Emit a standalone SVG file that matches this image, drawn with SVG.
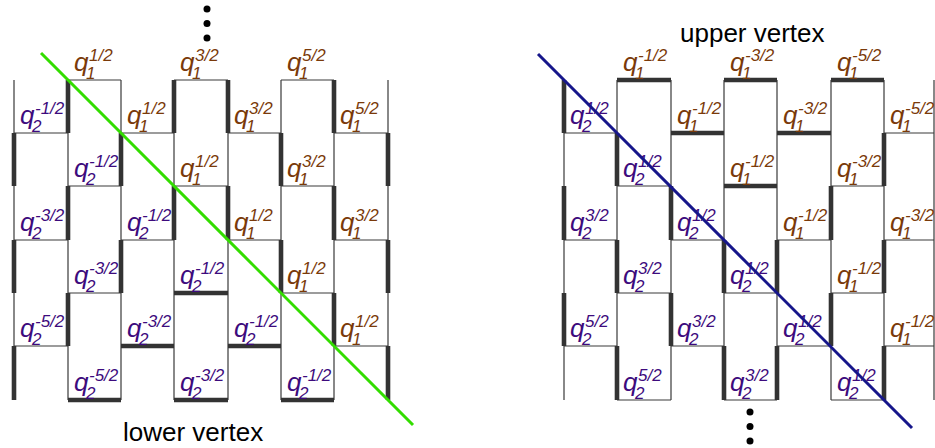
<svg xmlns="http://www.w3.org/2000/svg" width="935" height="448" viewBox="0 0 935 448">
  <style>
    .thin { fill: none; stroke: #3a3a3a; stroke-width: 1.2; }
    .thick { fill: none; stroke: #333; stroke-width: 4.6; stroke-linecap: butt; }
    .lbl { font-family: "Liberation Sans", Arial, sans-serif; font-style: italic; font-size: 26px; }
    .s { font-size: 17px; }
    .q1 { fill: #7a3a0a; }
    .q2 { fill: #3d0b7d; }
    .title { font-family: "Liberation Sans", Arial, sans-serif; font-size: 26px; fill: #000; }
    .dot { fill: #000; }
  </style>

  <!-- Left lattice: lower vertex -->
  <g id="lower-panel">
    <g id="lower-grid">
      <path class="thin" d="M14 80V400 M68 80V400 M121 80V400 M174 80V400 M228 80V400 M281 80V400 M334 80V400 M388 80V400"/>
      <path class="thin" d="M68 80H121 M174 80H228 M281 80H334
        M14 133H68 M121 133H174 M228 133H281 M334 133H388
        M68 186H121 M174 186H228 M281 186H334
        M14 240H68 M121 240H174 M228 240H281 M334 240H388
        M68 293H121 M174 293H228 M281 293H334
        M14 346H68 M121 346H174 M228 346H281 M334 346H388
        M68 400H121 M174 400H228 M281 400H334"/>
    </g>
    <g id="lower-thick">
      <path class="thick" d="M68 80V133 M174 80V133 M228 80V133 M334 80V133
        M14 133V186 M121 133V186 M281 133V186 M388 133V186
        M68 186V240 M174 186V240 M228 186V240 M334 186V240
        M14 240V293 M121 240V293 M281 240V293 M388 240V293
        M68 293V346 M334 293V346
        M14 346V400 M388 346V400"/>
      <path class="thick" d="M174 293H228 M121 346H174 M228 346H281 M68 400H121 M174 400H228 M281 400H334"/>
    </g>
    <g id="lower-labels" class="lbl">
      <text class="q1" x="74" y="71">q<tspan class="s" x="86" y="79">1</tspan><tspan class="s" x="89" y="61">1/2</tspan></text>
      <text class="q1" x="180" y="71">q<tspan class="s" x="192" y="79">1</tspan><tspan class="s" x="195" y="61">3/2</tspan></text>
      <text class="q1" x="287" y="71">q<tspan class="s" x="299" y="79">1</tspan><tspan class="s" x="302" y="61">5/2</tspan></text>

      <text class="q2" x="20" y="124">q<tspan class="s" x="32" y="132">2</tspan><tspan class="s" x="35" y="114">-1/2</tspan></text>
      <text class="q1" x="127" y="124">q<tspan class="s" x="139" y="132">1</tspan><tspan class="s" x="142" y="114">1/2</tspan></text>
      <text class="q1" x="234" y="124">q<tspan class="s" x="246" y="132">1</tspan><tspan class="s" x="249" y="114">3/2</tspan></text>
      <text class="q1" x="340" y="124">q<tspan class="s" x="352" y="132">1</tspan><tspan class="s" x="355" y="114">5/2</tspan></text>

      <text class="q2" x="74" y="177">q<tspan class="s" x="86" y="185">2</tspan><tspan class="s" x="89" y="167">-1/2</tspan></text>
      <text class="q1" x="180" y="177">q<tspan class="s" x="192" y="185">1</tspan><tspan class="s" x="195" y="167">1/2</tspan></text>
      <text class="q1" x="287" y="177">q<tspan class="s" x="299" y="185">1</tspan><tspan class="s" x="302" y="167">3/2</tspan></text>

      <text class="q2" x="20" y="231">q<tspan class="s" x="32" y="239">2</tspan><tspan class="s" x="35" y="221">-3/2</tspan></text>
      <text class="q2" x="127" y="231">q<tspan class="s" x="139" y="239">2</tspan><tspan class="s" x="142" y="221">-1/2</tspan></text>
      <text class="q1" x="234" y="231">q<tspan class="s" x="246" y="239">1</tspan><tspan class="s" x="249" y="221">1/2</tspan></text>
      <text class="q1" x="340" y="231">q<tspan class="s" x="352" y="239">1</tspan><tspan class="s" x="355" y="221">3/2</tspan></text>

      <text class="q2" x="74" y="284">q<tspan class="s" x="86" y="292">2</tspan><tspan class="s" x="89" y="274">-3/2</tspan></text>
      <text class="q2" x="180" y="284">q<tspan class="s" x="192" y="292">2</tspan><tspan class="s" x="195" y="274">-1/2</tspan></text>
      <text class="q1" x="287" y="284">q<tspan class="s" x="299" y="292">1</tspan><tspan class="s" x="302" y="274">1/2</tspan></text>

      <text class="q2" x="20" y="337">q<tspan class="s" x="32" y="345">2</tspan><tspan class="s" x="35" y="327">-5/2</tspan></text>
      <text class="q2" x="127" y="337">q<tspan class="s" x="139" y="345">2</tspan><tspan class="s" x="142" y="327">-3/2</tspan></text>
      <text class="q2" x="234" y="337">q<tspan class="s" x="246" y="345">2</tspan><tspan class="s" x="249" y="327">-1/2</tspan></text>
      <text class="q1" x="340" y="337">q<tspan class="s" x="352" y="345">1</tspan><tspan class="s" x="355" y="327">1/2</tspan></text>

      <text class="q2" x="74" y="391">q<tspan class="s" x="86" y="399">2</tspan><tspan class="s" x="89" y="381">-5/2</tspan></text>
      <text class="q2" x="180" y="391">q<tspan class="s" x="192" y="399">2</tspan><tspan class="s" x="195" y="381">-3/2</tspan></text>
      <text class="q2" x="287" y="391">q<tspan class="s" x="299" y="399">2</tspan><tspan class="s" x="302" y="381">-1/2</tspan></text>
    </g>
    <g id="lower-dots">
      <circle class="dot" cx="207" cy="9" r="3.5"/>
      <circle class="dot" cx="207" cy="23.5" r="3.5"/>
      <circle class="dot" cx="207" cy="38" r="3.5"/>
    </g>
    <line id="lower-diagonal" x1="41" y1="53" x2="413" y2="425" stroke="#33dd00" stroke-width="3"/>
    <text class="title" x="123" y="441">lower vertex</text>
  </g>

  <!-- Right lattice: upper vertex -->
  <g id="upper-panel">
    <g id="upper-grid">
      <path class="thin" d="M564 80V400 M617 80V400 M671 80V400 M724 80V400 M777 80V400 M831 80V400 M884 80V400 M934 80V400"/>
      <path class="thin" d="M617 80H671 M724 80H777 M831 80H884
        M564 133H617 M671 133H724 M777 133H831 M884 133H934
        M617 186H671 M724 186H777 M831 186H884
        M564 240H617 M671 240H724 M777 240H831 M884 240H934
        M617 293H671 M724 293H777 M831 293H884
        M564 346H617 M671 346H724 M777 346H831 M884 346H934
        M617 400H671 M724 400H777 M831 400H884"/>
    </g>
    <g id="upper-thick">
      <path class="thick" d="M564 80V133
        M617 133V186 M884 133V186
        M564 186V240 M671 186V240 M831 186V240
        M617 240V293 M724 240V293 M777 240V293 M884 240V293
        M564 293V346 M671 293V346 M831 293V346
        M617 346V400 M724 346V400 M777 346V400 M884 346V400"/>
      <path class="thick" d="M617 80H671 M724 80H777 M831 80H884 M671 133H724 M777 133H831 M724 186H777"/>
    </g>
    <g id="upper-labels" class="lbl">
      <text class="q1" x="623" y="71">q<tspan class="s" x="635" y="79">1</tspan><tspan class="s" x="638" y="61">-1/2</tspan></text>
      <text class="q1" x="730" y="71">q<tspan class="s" x="742" y="79">1</tspan><tspan class="s" x="745" y="61">-3/2</tspan></text>
      <text class="q1" x="837" y="71">q<tspan class="s" x="849" y="79">1</tspan><tspan class="s" x="852" y="61">-5/2</tspan></text>

      <text class="q2" x="570" y="124">q<tspan class="s" x="582" y="132">2</tspan><tspan class="s" x="585" y="114">1/2</tspan></text>
      <text class="q1" x="677" y="124">q<tspan class="s" x="689" y="132">1</tspan><tspan class="s" x="692" y="114">-1/2</tspan></text>
      <text class="q1" x="783" y="124">q<tspan class="s" x="795" y="132">1</tspan><tspan class="s" x="798" y="114">-3/2</tspan></text>
      <text class="q1" x="890" y="124">q<tspan class="s" x="902" y="132">1</tspan><tspan class="s" x="905" y="114">-5/2</tspan></text>

      <text class="q2" x="623" y="177">q<tspan class="s" x="635" y="185">2</tspan><tspan class="s" x="638" y="167">1/2</tspan></text>
      <text class="q1" x="730" y="177">q<tspan class="s" x="742" y="185">1</tspan><tspan class="s" x="745" y="167">-1/2</tspan></text>
      <text class="q1" x="837" y="177">q<tspan class="s" x="849" y="185">1</tspan><tspan class="s" x="852" y="167">-3/2</tspan></text>

      <text class="q2" x="570" y="231">q<tspan class="s" x="582" y="239">2</tspan><tspan class="s" x="585" y="221">3/2</tspan></text>
      <text class="q2" x="677" y="231">q<tspan class="s" x="689" y="239">2</tspan><tspan class="s" x="692" y="221">1/2</tspan></text>
      <text class="q1" x="783" y="231">q<tspan class="s" x="795" y="239">1</tspan><tspan class="s" x="798" y="221">-1/2</tspan></text>
      <text class="q1" x="890" y="231">q<tspan class="s" x="902" y="239">1</tspan><tspan class="s" x="905" y="221">-3/2</tspan></text>

      <text class="q2" x="623" y="284">q<tspan class="s" x="635" y="292">2</tspan><tspan class="s" x="638" y="274">3/2</tspan></text>
      <text class="q2" x="730" y="284">q<tspan class="s" x="742" y="292">2</tspan><tspan class="s" x="745" y="274">1/2</tspan></text>
      <text class="q1" x="837" y="284">q<tspan class="s" x="849" y="292">1</tspan><tspan class="s" x="852" y="274">-1/2</tspan></text>

      <text class="q2" x="570" y="337">q<tspan class="s" x="582" y="345">2</tspan><tspan class="s" x="585" y="327">5/2</tspan></text>
      <text class="q2" x="677" y="337">q<tspan class="s" x="689" y="345">2</tspan><tspan class="s" x="692" y="327">3/2</tspan></text>
      <text class="q2" x="783" y="337">q<tspan class="s" x="795" y="345">2</tspan><tspan class="s" x="798" y="327">1/2</tspan></text>
      <text class="q1" x="890" y="337">q<tspan class="s" x="902" y="345">1</tspan><tspan class="s" x="905" y="327">-1/2</tspan></text>

      <text class="q2" x="623" y="391">q<tspan class="s" x="635" y="399">2</tspan><tspan class="s" x="638" y="381">5/2</tspan></text>
      <text class="q2" x="730" y="391">q<tspan class="s" x="742" y="399">2</tspan><tspan class="s" x="745" y="381">3/2</tspan></text>
      <text class="q2" x="837" y="391">q<tspan class="s" x="849" y="399">2</tspan><tspan class="s" x="852" y="381">1/2</tspan></text>
    </g>
    <g id="upper-dots">
      <circle class="dot" cx="750" cy="412" r="3.5"/>
      <circle class="dot" cx="750" cy="426.5" r="3.5"/>
      <circle class="dot" cx="750" cy="441" r="3.5"/>
    </g>
    <line id="upper-diagonal" x1="538" y1="54" x2="912" y2="428" stroke="#16168a" stroke-width="3"/>
    <text class="title" x="680" y="42">upper vertex</text>
  </g>
</svg>
